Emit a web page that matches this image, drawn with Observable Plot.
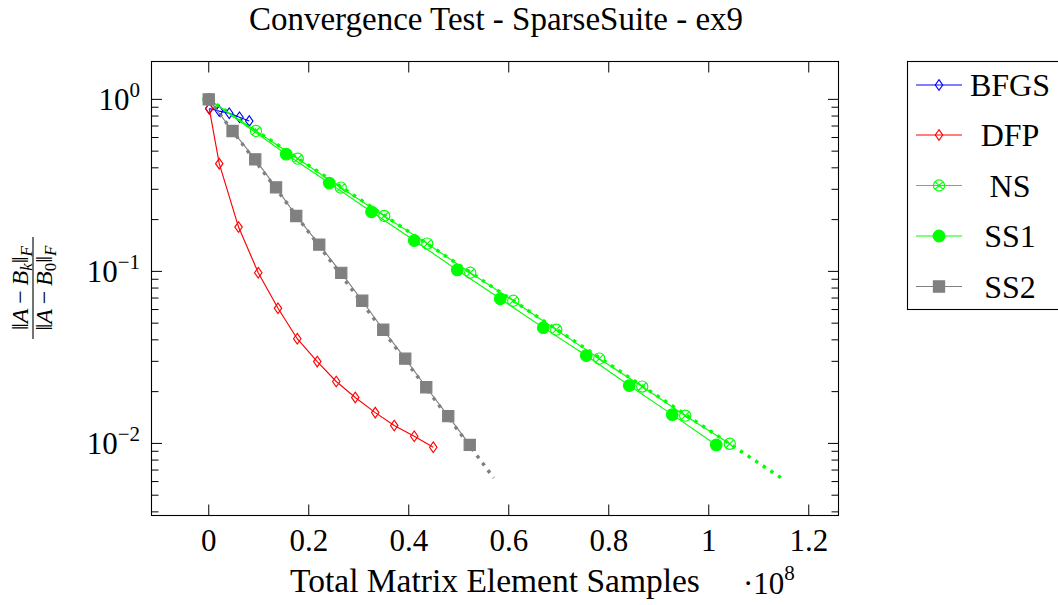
<!DOCTYPE html>
<html><head><meta charset="utf-8">
<script src="https://cdn.jsdelivr.net/npm/d3@7"></script>
<script src="https://cdn.jsdelivr.net/npm/@observablehq/plot@0.6"></script>
<style>
body{margin:0;background:#fff;}
#wrap{position:relative;width:1058px;height:605px;overflow:hidden;}
</style></head><body><div id="wrap"></div>
<script>
// ---- data (x in units of 1e8 samples, y = relative Frobenius error) ----
const seriesNames = ["BFGS", "DFP", "NS", "SS1", "SS2"];
const bfgsX = [0.001, 0.021, 0.041, 0.0615, 0.081];
const bfgsY = [0.884, 0.855, 0.830, 0.787, 0.748];
const dfpX = [0.001, 0.021, 0.0596, 0.099, 0.1385, 0.177, 0.217, 0.255, 0.293, 0.333, 0.371, 0.411, 0.449];
const dfpY = [0.884, 0.423, 0.181, 0.0982, 0.0610, 0.0406, 0.0299, 0.0229, 0.0185, 0.0151, 0.0127, 0.0110, 0.0095];
const nsX = [0, 0.0944, 0.178, 0.264, 0.351, 0.437, 0.523, 0.609, 0.695, 0.781, 0.867, 0.953, 1.042];
const nsY = [1, 0.655, 0.452, 0.307, 0.210, 0.145, 0.0982, 0.0675, 0.0458, 0.0311, 0.0214, 0.0145, 0.00995];
const ss1X = [0, 0.155, 0.241, 0.3255, 0.411, 0.497, 0.583, 0.669, 0.755, 0.841, 0.927, 1.015];
const ss1Y = [1, 0.480, 0.326, 0.222, 0.151, 0.102, 0.0693, 0.0471, 0.0324, 0.0217, 0.0147, 0.0098];
const ss2X = [0, 0.0476, 0.093, 0.1346, 0.175, 0.221, 0.265, 0.307, 0.349, 0.393, 0.435, 0.479, 0.522];
const ss2Y = [1, 0.655, 0.448, 0.308, 0.210, 0.143, 0.098, 0.0675, 0.0458, 0.0311, 0.0212, 0.0144, 0.0098];
// dotted extrapolation lines
const fitNSX = [0, 1.145];
const fitNSY = [1, 0.0063];
const fitSS2X = [0, 0.57];
const fitSS2Y = [1, 0.0063];
// ticks
const xTicks = [0, 0.2, 0.4, 0.6, 0.8, 1.0, 1.2];
const xTickLabels = ["0", "0.2", "0.4", "0.6", "0.8", "1", "1.2"];
const yTicks = [1, 0.1, 0.01];
const yTickExp = ["0", "\u22121", "\u22122"];
const yMinor = [0.004,0.005,0.006,0.007,0.008,0.009,0.02,0.03,0.04,0.05,0.06,0.07,0.08,0.09,0.2,0.3,0.4,0.5,0.6,0.7,0.8,0.9];

const rows = (xs, ys) => xs.map((x, i) => ({x, y: ys[i]}));

// pgfplots-like marker shapes
function diamondSym(ratio){return {draw(ctx,size){const r=Math.sqrt(size/Math.PI);ctx.moveTo(0,-r);ctx.lineTo(r*ratio,0);ctx.lineTo(0,r);ctx.lineTo(-r*ratio,0);ctx.closePath();}};}
const diamond = diamondSym(0.7);
const otimes = {draw(ctx,size){const r=Math.sqrt(size/Math.PI);ctx.moveTo(r,0);ctx.arc(0,0,r,0,2*Math.PI);const a=r*Math.SQRT1_2;ctx.moveTo(-a,-a);ctx.lineTo(a,a);ctx.moveTo(a,-a);ctx.lineTo(-a,a);}};
const square = {draw(ctx,size){const r=Math.sqrt(size/Math.PI);ctx.rect(-r,-r,2*r,2*r);}};
const disc = {draw(ctx,size){const r=Math.sqrt(size/Math.PI);ctx.moveTo(r,0);ctx.arc(0,0,r,0,2*Math.PI);}};

const styles = [
  {color:"#0000ff", sym: diamond, r:5.3, fill:"none"},
  {color:"#ff0000", sym: diamond, r:5.3, fill:"none"},
  {color:"#00ff00", sym: otimes, r:5.6, fill:"none"},
  {color:"#00ff00", sym: disc, r:5.8, fill:"#00ff00"},
  {color:"#808080", sym: square, r:5.6, fill:"#808080"}
];
const data = [rows(bfgsX,bfgsY), rows(dfpX,dfpY), rows(nsX,nsY), rows(ss1X,ss1Y), rows(ss2X,ss2Y)];

const LW = 1.15;
const marks = [
  Plot.line(rows(fitNSX, fitNSY), {x:"x", y:"y", stroke:"#00ff00", strokeWidth:3.4, strokeDasharray:"3.4,5.7", strokeLinecap:"butt"}),
  Plot.line(rows(fitSS2X, fitSS2Y), {x:"x", y:"y", stroke:"#808080", strokeWidth:3.4, strokeDasharray:"3.4,5.7", strokeLinecap:"butt"})
];
data.forEach((d, i) => {
  const s = styles[i];
  marks.push(Plot.line(d, {x:"x", y:"y", stroke:s.color, strokeWidth:LW, strokeLinejoin:"miter", strokeLinecap:"butt"}));
  marks.push(Plot.dot(d, {x:"x", y:"y", symbol:s.sym, r:s.r, stroke:s.color, fill:s.fill, strokeWidth:LW}));
});
// inward ticks on all four sides
marks.push(
  Plot.axisX(xTicks, {anchor:"bottom", tickSize:-10.5, tickFormat:()=>"", label:null, strokeWidth:1}),
  Plot.axisX(xTicks, {anchor:"top", tickSize:-10.5, tickFormat:()=>"", label:null, strokeWidth:1}),
  Plot.axisY(yTicks, {anchor:"left", tickSize:-11, tickFormat:()=>"", label:null, strokeWidth:1}),
  Plot.axisY(yTicks, {anchor:"right", tickSize:-11, tickFormat:()=>"", label:null, strokeWidth:1}),
  Plot.axisY(yMinor, {anchor:"left", tickSize:-7.5, tickFormat:()=>"", label:null, strokeWidth:1}),
  Plot.axisY(yMinor, {anchor:"right", tickSize:-7.5, tickFormat:()=>"", label:null, strokeWidth:1}),
  Plot.axisX(xTicks, {anchor:"bottom", tickSize:0, tickPadding:13, fontSize:31, label:null,
    tickFormat: d => xTickLabels[xTicks.indexOf(d)]}),
  Plot.frame({stroke:"#000", strokeWidth:1.1})
);

const chart = Plot.plot({
  width: 1058, height: 605,
  marginLeft: 151, marginRight: 220, marginTop: 61, marginBottom: 90,
  style: {fontFamily: "'Liberation Serif', serif", background: "#fff", color: "#000", overflow: "visible"},
  x: {type: "linear", domain: [-0.1145, 1.2595]},
  y: {type: "log", domain: [0.00381, 1.66]},
  marks
});
document.getElementById("wrap").appendChild(chart);

const svg = d3.select(chart);
const ys = chart.scale("y");
const FONT = "'Liberation Serif', serif";

// y tick labels 10^k
yTicks.forEach((v, i) => {
  const t = svg.append("text").attr("x", 140).attr("y", ys.apply(v) + 11)
    .attr("text-anchor", "end").attr("font-size", 31).attr("font-family", FONT).attr("fill", "#000");
  t.append("tspan").text("10");
  t.append("tspan").attr("dy", -13).attr("font-size", 21).text(yTickExp[i]);
});

// title
svg.append("text").attr("x", 496).attr("y", 30).attr("text-anchor", "middle")
  .attr("font-size", 33).attr("font-family", FONT).attr("fill", "#000")
  .text("Convergence Test - SparseSuite - ex9");

// x label
svg.append("text").attr("x", 495).attr("y", 592).attr("text-anchor", "middle")
  .attr("font-size", 33.5).attr("font-family", FONT).attr("fill", "#000")
  .text("Total Matrix Element Samples");
const sc = svg.append("text").attr("x", 743).attr("y", 594).attr("text-anchor", "start")
  .attr("font-size", 31).attr("font-family", FONT).attr("fill", "#000");
sc.append("tspan").text("\u00b710");
sc.append("tspan").attr("dy", -14).attr("font-size", 21).text("8");

// y label (fraction, rotated)
const gl = svg.append("g").attr("transform", "translate(33,288) rotate(-90)").attr("font-family", FONT).attr("fill", "#000");
function normText(y, sub, subItalic) {
  const t = gl.append("text").attr("x", 0).attr("y", y).attr("text-anchor", "middle").attr("font-size", 24);
  t.append("tspan").text("\u2016");
  t.append("tspan").attr("font-style", "italic").text("A");
  t.append("tspan").text("\u2009\u2212\u2009");
  t.append("tspan").attr("font-style", "italic").text("B");
  t.append("tspan").attr("font-style", subItalic ? "italic" : "normal").attr("font-size", 17).attr("dy", 4).text(sub);
  t.append("tspan").attr("dy", -4).text("\u2016");
  t.append("tspan").attr("font-style", "italic").attr("font-size", 17).attr("dy", 4).text("F");
}
normText(-5, "k", true);
normText(19, "0", false);
gl.append("line").attr("x1", -51).attr("x2", 51).attr("y1", 0).attr("y2", 0).attr("stroke", "#000").attr("stroke-width", 1.1);

// legend
const lg = svg.append("g");
lg.append("rect").attr("x", 907.5).attr("y", 61.5).attr("width", 300).attr("height", 248)
  .attr("fill", "#fff").attr("stroke", "#000").attr("stroke-width", 1.1);
const rowY = [85, 135, 185.5, 236, 286.5];
seriesNames.forEach((name, i) => {
  const s = styles[i], cy = rowY[i];
  lg.append("line").attr("x1", 916).attr("x2", 962).attr("y1", cy).attr("y2", cy)
    .attr("stroke", s.color).attr("stroke-width", LW);
  const p = d3.path(); s.sym.draw(p, Math.PI * s.r * s.r);
  lg.append("path").attr("d", p.toString()).attr("transform", `translate(939,${cy})`)
    .attr("fill", s.fill).attr("stroke", s.color).attr("stroke-width", LW);
  lg.append("text").attr("x", 1010).attr("y", cy + 11).attr("text-anchor", "middle")
    .attr("font-size", 32).attr("font-family", FONT).attr("fill", "#000").text(name);
});
</script></body></html>
